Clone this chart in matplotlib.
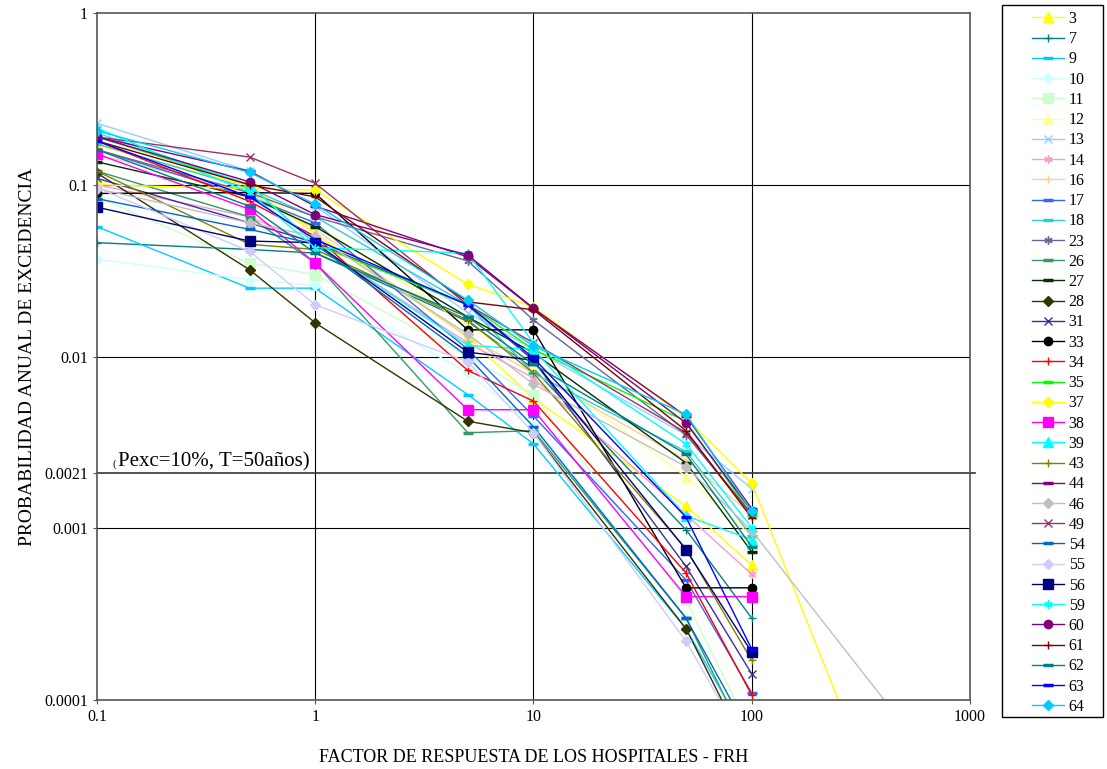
import numpy as np
import matplotlib
matplotlib.use("Agg")
import matplotlib.pyplot as plt
from matplotlib.patches import Rectangle

plt.rcParams['font.family'] = ['Liberation Serif', 'DejaVu Serif']

# factor de respuesta (eje x)
frh = [0.1, 0.5, 1, 5, 10, 50, 100, 1000]
nan = np.nan

# probabilidad anual de excedencia por hospital
h3  = [0.17, 0.098, 0.052, 0.013, 0.0057, 0.00135, 0.00061, nan]
h7  = [0.046, 0.042, 0.040, 0.016, 0.0085, 0.00098, 0.0003, nan]
h9  = [0.057, 0.025, 0.025, 0.006, 0.0031, 0.00026, 5.5e-5, nan]
h10 = [0.037, 0.028, 0.026, 0.008, 0.004, 0.0003, 5e-5, nan]
h11 = [0.085, 0.035, 0.030, 0.010, 0.006, 0.00038, 6.4e-5, nan]
h12 = [0.16, 0.09, 0.06, 0.015, 0.009, 0.002, 0.0009, nan]
h13 = [0.228, 0.12, 0.075, 0.018, 0.011, 0.0035, 0.0017, nan]
h14 = [0.10, 0.065, 0.045, 0.012, 0.0075, 0.0012, 0.00054, nan]
h16 = [0.15, 0.09, 0.055, 0.013, 0.008, 0.0025, 0.0012, nan]
h17 = [0.16, 0.085, 0.06, 0.011, 0.0045, 0.0005, 0.00011, nan]
h18 = [0.173, 0.095, 0.065, 0.02, 0.008, 0.0028, 0.0009, nan]
h23 = [0.16, 0.09, 0.065, 0.036, 0.0163, 0.0035, 0.0012, nan]
h26 = [0.12, 0.065, 0.035, 0.0036, 0.0037, 0.0003, 5e-5, nan]
h27 = [0.136, 0.085, 0.057, 0.017, 0.0105, 0.0024, 0.00073, nan]
h28 = [0.117, 0.032, 0.0157, 0.0042, 0.0036, 0.00026, 4.5e-5, nan]
h31 = [0.109, 0.06, 0.046, 0.02, 0.0095, 0.0006, 0.000142, nan]
h33 = [0.089, 0.09, 0.089, 0.0143, 0.0143, 0.00045, 0.00045, nan]
h34 = [0.18, 0.08, 0.05, 0.0083, 0.0055, 0.00055, 0.000107, nan]
h35 = [0.19, 0.10, 0.045, 0.02, 0.011, 0.0042, 0.0012, nan]
h37 = [0.10, 0.095, 0.093, 0.0263, 0.0195, 0.0044, 0.00183, 1.2e-6]
h38 = [0.151, 0.072, 0.035, 0.0049, 0.0049, 0.0004, 0.0004, nan]
h39 = [0.20, 0.10, 0.045, 0.0116, 0.011, 0.00118, 0.00086, nan]
h43 = [0.12, 0.045, 0.042, 0.0163, 0.008, 0.00076, 0.00017, nan]
h44 = [0.19, 0.12, 0.075, 0.038, 0.019, 0.0045, 0.0013, nan]
h46 = [0.095, 0.06, 0.05, 0.0135, 0.0069, 0.00228, 0.00097, 2.3e-5]
h49 = [0.19, 0.145, 0.102, 0.02, 0.012, 0.0036, 0.0012, nan]
h54 = [0.083, 0.055, 0.045, 0.01, 0.0039, 0.0003, 6e-5, nan]
h55 = [0.096, 0.041, 0.02, 0.0093, 0.0036, 0.00022, 4.7e-5, nan]
h56 = [0.074, 0.047, 0.046, 0.0106, 0.0095, 0.00075, 0.00019, nan]
h59 = [0.214, 0.09, 0.043, 0.04, 0.012, 0.0031, 0.00101, nan]
h60 = [0.19, 0.104, 0.067, 0.039, 0.0191, 0.0041, 0.00126, nan]
h61 = [0.18, 0.10, 0.085, 0.0208, 0.0187, 0.0037, 0.00115, nan]
h62 = [0.16, 0.075, 0.04, 0.017, 0.009, 0.0027, 0.00078, nan]
h63 = [0.18, 0.085, 0.048, 0.02, 0.0098, 0.00116, 0.000198, nan]
h64 = [0.206, 0.118, 0.077, 0.0213, 0.0115, 0.0046, 0.00126, nan]

series = [
    ('3', h3, '#FFFF00', '^'), ('7', h7, '#008080', '+'),
    ('9', h9, '#00CCFF', '_'), ('10', h10, '#CCFFFF', 'D'),
    ('11', h11, '#CCFFCC', 's'), ('12', h12, '#FFFF99', '^'),
    ('13', h13, '#99CCFF', 'x'), ('14', h14, '#FF99CC', (6, 2, 0)),
    ('16', h16, '#FFCC99', '+'), ('17', h17, '#3366FF', '_'),
    ('18', h18, '#33CCCC', '_'), ('23', h23, '#666699', (6, 2, 0)),
    ('26', h26, '#339966', '_'), ('27', h27, '#003300', '_'),
    ('28', h28, '#333300', 'D'), ('31', h31, '#333399', 'x'),
    ('33', h33, '#000000', 'o'), ('34', h34, '#FF0000', '+'),
    ('35', h35, '#00FF00', '_'), ('37', h37, '#FFFF00', 'D'),
    ('38', h38, '#FF00FF', 's'), ('39', h39, '#00FFFF', '^'),
    ('43', h43, '#808000', '+'), ('44', h44, '#800080', '_'),
    ('46', h46, '#C0C0C0', 'D'), ('49', h49, '#993366', 'x'),
    ('54', h54, '#0066CC', '_'), ('55', h55, '#CCCCFF', 'D'),
    ('56', h56, '#000080', 's'), ('59', h59, '#00FFFF', (6, 2, 0)),
    ('60', h60, '#800080', 'o'), ('61', h61, '#800000', '+'),
    ('62', h62, '#008080', '_'), ('63', h63, '#0000FF', '_'),
    ('64', h64, '#00CCFF', 'D'),
]

fig = plt.figure(figsize=(11.07, 7.69), dpi=100)
ax = fig.add_axes([0.0876, 0.0897, 0.7886, 0.8934])

for name, vals, col, mk in series:
    ms = 6
    mew = 1.0
    if mk == '_':
        ms, mew = 7, 2.5
    elif mk == 'D':
        ms = 5
    elif mk == 's':
        ms = 6.5
    elif mk == '^':
        ms = 6.5
    ax.plot(frh, vals, color=col, marker=mk, ms=ms, mew=mew, mec=col, mfc=col,
            lw=1.0, label=name)

ax.set_xscale('log')
ax.set_yscale('log')
ax.set_xlim(0.1, 1000)
ax.set_ylim(1e-4, 1)

yt = [1e-4, 1e-3, 2.1e-3, 1e-2, 1e-1, 1]
ax.set_yticks(yt)
ax.set_yticklabels(['0.0001', '0.001', '0.0021', '0.01', '0.1', '1'])
ax.set_xticks([0.1, 1, 10, 100, 1000])
ax.set_xticklabels(['0.1', '1', '10', '100', '1000'])
ax.minorticks_off()
ax.tick_params(labelsize=11.5, length=3, color='#555555')

for v in [1e-3, 1e-2, 1e-1]:
    ax.axhline(v, color='black', lw=0.8, zorder=0)
for v in [1, 10, 100]:
    ax.axvline(v, color='black', lw=0.8, zorder=0)
ax.axhline(0.0021, xmin=0, xmax=1.006, color='#333333', lw=1.2, clip_on=False, zorder=0)

for s in ax.spines.values():
    s.set_color('#555555')
    s.set_linewidth(1.2)

ax.text(0.018, 0.34, '(', transform=ax.transAxes, fontsize=8, va='baseline', ha='left')
ax.text(0.024, 0.34, 'Pexc=10%, T=50años)', transform=ax.transAxes,
        fontsize=15, va='baseline', ha='left')

ax.set_xlabel('FACTOR DE RESPUESTA DE LOS HOSPITALES - FRH', fontsize=13, labelpad=17)
ax.set_ylabel('PROBABILIDAD ANUAL DE EXCEDENCIA', fontsize=14, labelpad=6)

# marco de la leyenda
fig.patches.append(Rectangle((1002 / 1107, 1 - 717 / 769), 101 / 1107, 712 / 769,
                             transform=fig.transFigure, fill=False,
                             edgecolor='black', lw=1.0))
leg = fig.legend(loc='upper left', bbox_to_anchor=(1032 / 1107, 1 - 11 / 769),
                 fontsize=11.5, frameon=False, handlelength=2.0,
                 labelspacing=0.265, borderpad=0.0, handletextpad=0.3,
                 borderaxespad=0)

fig.savefig('out.png', dpi=100)
